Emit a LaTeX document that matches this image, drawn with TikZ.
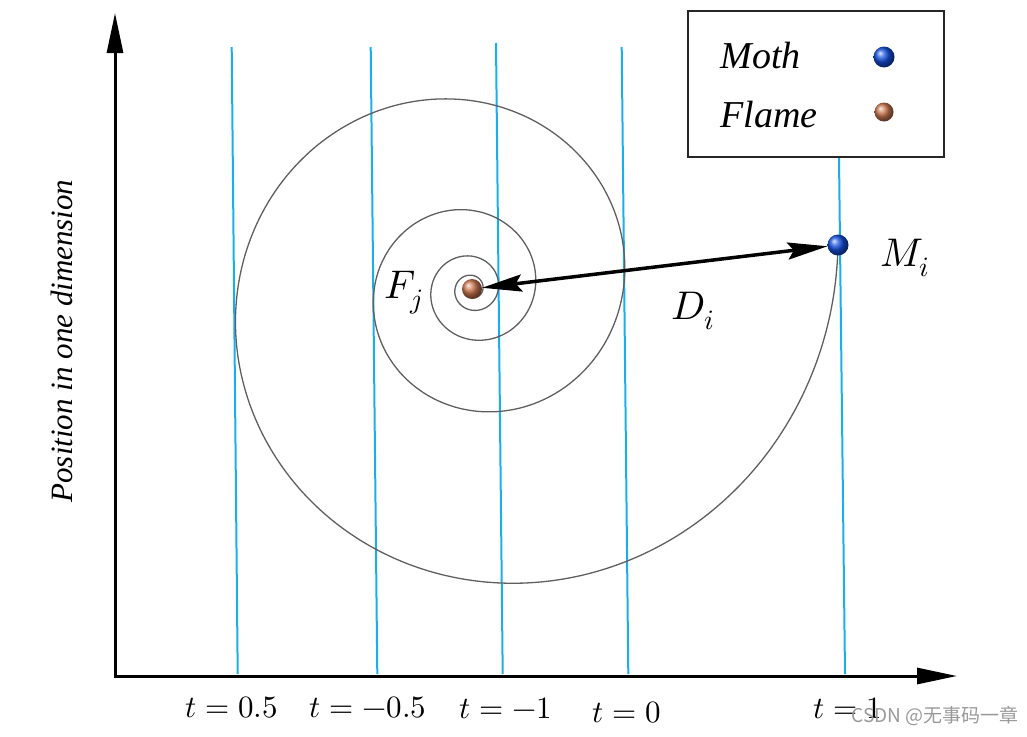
\documentclass[tikz,border=0pt]{standalone}
\usepackage{fontspec}
\usepackage{unicode-math}
\setmainfont{Liberation Serif}
\setmathfont{Latin Modern Math}
\newfontfamily\cjk{Noto Sans CJK SC}
\usetikzlibrary{arrows.meta}

\definecolor{tblue}{RGB}{25,175,235}
\definecolor{spiralgray}{RGB}{95,95,95}
\definecolor{mothblue}{RGB}{20,80,225}
\definecolor{flamebrown}{RGB}{205,120,80}

\begin{document}
\begin{tikzpicture}[x=1pt, y=-1pt,
        axis/.style={line width=3pt, line join=miter,
            {Triangle[length=40pt,width=16pt]}-{Triangle[length=40pt,width=16pt]}},
        tline/.style={tblue, line width=2pt},
        spiral/.style={spiralgray, line width=1.3pt},
        ball/.style={circle, inner sep=0pt, outer sep=0pt, minimum size=#1},
        darrow/.style={line width=3.5pt,
            {Stealth[length=40pt,width=17pt,inset=6pt]}-{Stealth[length=40pt,width=17pt,inset=6pt]}},
        mlabel/.style={font=\fontsize{40}{44}\selectfont},
        tlabel/.style={font=\fontsize{31}{34}\selectfont},
        leg/.style={font=\fontsize{38}{42}\selectfont\itshape, anchor=base west}]
    \useasboundingbox (0,0) rectangle (1027,736);

    % axes
    \coordinate (O) at (115,676);
    \coordinate (ytop) at (115,13);
    \coordinate (xend) at (957,676);
    \draw[axis] (ytop) -- (O) -- (xend);
    \node[rotate=90, font=\fontsize{31}{34}\selectfont\itshape] (ylab) at (62,341) {Position in one dimension};

    % time lines
    \draw[tline] (231.7,47) -- (237.7,674);
    \draw[tline] (370.7,47) -- (377.3,674);
    \draw[tline] (496,43) -- (502.7,674);
    \draw[tline] (621.7,47) -- (628.3,674);
    \draw[tline] (839,158) -- (845,674);

    \node[tlabel] (t1) at (232,708) {$t = 0.5$};
    \node[tlabel] (t2) at (368,708) {$t = -0.5$};
    \node[tlabel] (t3) at (506,708) {$t = -1$};
    \node[tlabel] (t4) at (627,713) {$t = 0$};
    \node[tlabel] (t5) at (848,708) {$t = 1$};

    % spiral from moth to flame
    \draw[spiral] plot[domain=0:1620, samples=600, smooth, variable=\s]
        ({472 + 368.6*exp(-0.002424*\s)*cos(6.9-\s)}, {289 - 368.6*exp(-0.002424*\s)*sin(6.9-\s)});

    \node[ball=20pt, ball color=flamebrown] (flame) at (472,289) {};
    \node[ball=21pt, ball color=mothblue] (moth) at (838,245) {};
    \draw[darrow] (flame) -- (moth);

    \node[mlabel] (Mi) at (905,258) {$M_i$};
    \node[mlabel] (Fj) at (404,293) {$F_j$};
    \node[mlabel] (Di) at (693,311) {$D_i$};

    % legend
    \draw[line width=1.5pt, black!85] (688,11) rectangle (944,157);
    \node[leg] (lmoth) at (717,68) {Moth};
    \node[leg] (lflame) at (717,127) {Flame};
    \node[ball=21pt, ball color=mothblue] (bmoth) at (884,57) {};
    \node[ball=19pt, ball color=flamebrown] (bflame) at (884,112) {};

    \node[anchor=east, text=black!40, font=\cjk\fontsize{19}{21}\selectfont] (mark) at (1022,716) {CSDN @无事码一章};
\end{tikzpicture}
\end{document}
